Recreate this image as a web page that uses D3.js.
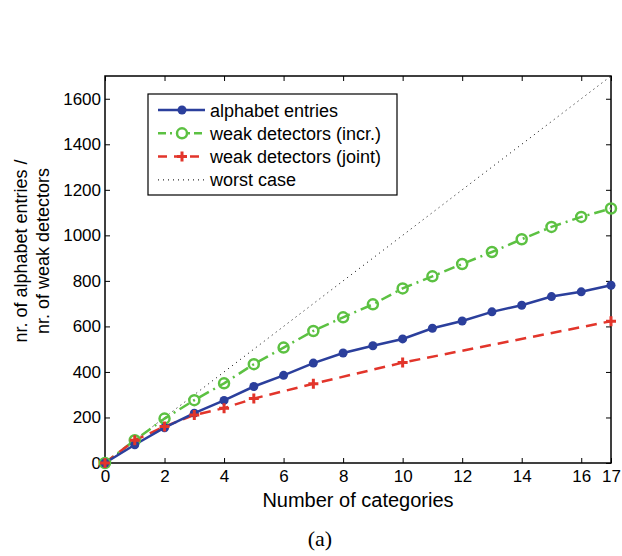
<!DOCTYPE html>
<html>
<head>
<meta charset="utf-8">
<script src="https://cdn.jsdelivr.net/npm/d3@7"></script>
<style>
  body { margin: 0; background: #fff; }
  svg text { font-family: "Liberation Sans", Arial, sans-serif; fill: #000; }
</style>
</head>
<body>
<div id="canvas"></div>
<script>
// ---- DATA ----
var categories = d3.range(0, 18);
var alphabetEntries = [0, 80, 155, 219, 275, 336, 385, 439, 483, 515, 545, 592, 624, 664, 693, 731, 752, 781];
var weakIncr = [0, 100, 195, 276, 350, 434, 507, 580, 640, 697, 767, 820, 874, 927, 983, 1037, 1081, 1118];
var jointX = [0, 1, 2, 3, 4, 5, 7, 10, 17];
var weakJoint = [0, 100, 160, 211, 241, 283, 348, 441, 623];
var worstCase = categories.map(function(n){ return n * 100; });
var xTicks = [0, 2, 4, 6, 8, 10, 12, 14, 16, 17];
var yTicks = [0, 200, 400, 600, 800, 1000, 1200, 1400, 1600];

// ---- CONVENTIONS ----
var outerWidth = 622, outerHeight = 556;
var margin = {top: 76, right: 11, bottom: 93, left: 105};
var width = outerWidth - margin.left - margin.right,
    height = outerHeight - margin.top - margin.bottom;

var svg = d3.select('#canvas').append('svg')
    .attr('width', outerWidth)
    .attr('height', outerHeight);

var plot = svg.append('g')
    .attr('transform', 'translate(' + margin.left + ',' + margin.top + ')');

// ---- SCALES ----
var scaleX = d3.scaleLinear().domain([0, 17]).range([0, width]);
var scaleY = d3.scaleLinear().domain([0, 1700]).range([height, 0]);

var blue = '#2b3f9c', green = '#5cc142', red = '#e2352b';

// ---- AXES (matlab box with inward ticks) ----
function styleAxis(g) {
    g.select('.domain').remove();
    g.selectAll('.tick line').attr('stroke', '#000').attr('stroke-width', 1);
    g.selectAll('.tick text').style('font-size', '17px');
}
plot.append('g').attr('transform', 'translate(0,' + height + ')')
    .call(d3.axisBottom(scaleX).tickValues(xTicks).tickSize(-5).tickPadding(7).tickFormat(d3.format('d')))
    .call(styleAxis);
plot.append('g')
    .call(d3.axisTop(scaleX).tickValues(xTicks).tickSize(-5).tickFormat(''))
    .call(styleAxis);
plot.append('g')
    .call(d3.axisLeft(scaleY).tickValues(yTicks).tickSize(-5).tickPadding(4).tickFormat(d3.format('d')))
    .call(styleAxis);
plot.append('g').attr('transform', 'translate(' + width + ',0)')
    .call(d3.axisRight(scaleY).tickValues(yTicks).tickSize(-5).tickFormat(''))
    .call(styleAxis);

plot.append('rect')
    .attr('width', width).attr('height', height)
    .attr('fill', 'none').attr('stroke', '#000').attr('stroke-width', 1.5);

// ---- LINES ----
var line = d3.line()
    .x(function(d){ return scaleX(d[0]); })
    .y(function(d){ return scaleY(d[1]); });

var worstData = d3.zip(categories, worstCase);
var alphaData = d3.zip(categories, alphabetEntries);
var incrData = d3.zip(categories, weakIncr);
var jointData = d3.zip(jointX, weakJoint);

plot.append('path').datum(worstData)
    .attr('d', line).attr('fill', 'none')
    .attr('stroke', '#000').attr('stroke-width', 1)
    .attr('stroke-dasharray', '1,4');

plot.append('path').datum(incrData)
    .attr('d', line).attr('fill', 'none')
    .attr('stroke', green).attr('stroke-width', 2.5)
    .attr('stroke-dasharray', '11,5,2,5');

plot.append('path').datum(jointData)
    .attr('d', line).attr('fill', 'none')
    .attr('stroke', red).attr('stroke-width', 2.5)
    .attr('stroke-dasharray', '11,7');

plot.append('path').datum(alphaData)
    .attr('d', line).attr('fill', 'none')
    .attr('stroke', blue).attr('stroke-width', 2.5);

// markers
plot.selectAll('.m-incr').data(incrData).enter().append('circle')
    .attr('cx', function(d){ return scaleX(d[0]); })
    .attr('cy', function(d){ return scaleY(d[1]); })
    .attr('r', 5).attr('fill', 'none')
    .attr('stroke', green).attr('stroke-width', 2.5);

plot.selectAll('.m-alpha').data(alphaData).enter().append('circle')
    .attr('cx', function(d){ return scaleX(d[0]); })
    .attr('cy', function(d){ return scaleY(d[1]); })
    .attr('r', 4.5).attr('fill', blue);

function drawPlus(sel) {
    sel.append('path')
        .attr('d', 'M-5,0H5M0,-5V5')
        .attr('stroke', red).attr('stroke-width', 3).attr('fill', 'none');
}
plot.selectAll('.m-joint').data(jointData).enter().append('g')
    .attr('transform', function(d){ return 'translate(' + scaleX(d[0]) + ',' + scaleY(d[1]) + ')'; })
    .call(drawPlus);

// ---- LEGEND ----
var legend = svg.append('g').attr('transform', 'translate(148,94)');
legend.append('rect')
    .attr('width', 249).attr('height', 101)
    .attr('fill', '#fff').attr('stroke', '#000').attr('stroke-width', 1.2);

var legendItems = [
    {label: 'alphabet entries', color: blue, dash: null, marker: 'dot'},
    {label: 'weak detectors (incr.)', color: green, dash: '8,4,2,4', marker: 'circle'},
    {label: 'weak detectors (joint)', color: red, dash: '9,7', marker: 'plus'},
    {label: 'worst case', color: '#000', dash: '1,4', marker: null}
];

legendItems.forEach(function(item, i){
    var g = legend.append('g').attr('transform', 'translate(0,' + (16 + i * 23.3) + ')');
    g.append('line')
        .attr('x1', 10).attr('x2', 57).attr('y1', 0).attr('y2', 0)
        .attr('stroke', item.color)
        .attr('stroke-width', item.marker ? 2.5 : 1)
        .attr('stroke-dasharray', item.dash);
    if (item.marker === 'dot') {
        g.append('circle').attr('cx', 34).attr('r', 4.5).attr('fill', item.color);
    } else if (item.marker === 'circle') {
        g.append('circle').attr('cx', 34).attr('r', 5).attr('fill', '#fff')
            .attr('stroke', item.color).attr('stroke-width', 2.5);
    } else if (item.marker === 'plus') {
        g.append('g').attr('transform', 'translate(34,0)').call(drawPlus);
    }
    g.append('text').attr('x', 62).attr('y', 6.5)
        .style('font-size', '18px').text(item.label);
});

// ---- LABELS ----
svg.append('text')
    .attr('x', margin.left + width / 2).attr('y', 507)
    .attr('text-anchor', 'middle').style('font-size', '20px')
    .text('Number of categories');

var yl = svg.append('text')
    .attr('transform', 'translate(0,251) rotate(-90)')
    .attr('text-anchor', 'middle').style('font-size', '18px');
yl.append('tspan').attr('x', 0).attr('y', 27).text('nr. of alphabet entries /');
yl.append('tspan').attr('x', 0).attr('y', 49).text('nr. of weak detectors');

svg.append('text')
    .attr('x', 320).attr('y', 546)
    .attr('text-anchor', 'middle')
    .style('font-family', '"Liberation Serif", "Times New Roman", serif')
    .style('font-size', '22px')
    .text('(a)');
</script>
</body>
</html>
